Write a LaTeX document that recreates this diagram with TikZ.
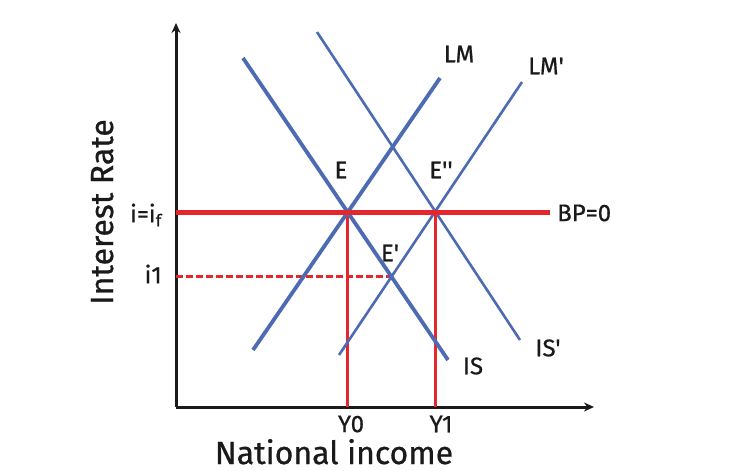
\documentclass[tikz,border=0pt]{standalone}
\usepackage{fontspec}
\setmainfont{Fira Sans}
\newfontfamily\labfont{Fira Sans}[FakeBold=0.7]
\usetikzlibrary{arrows.meta,positioning}
\definecolor{curveblue}{HTML}{4D6BB3}
\definecolor{bpred}{HTML}{E5262C}
\definecolor{ink}{HTML}{1A1A1A}
\tikzset{
  axisline/.style={-{Stealth[length=10pt,width=9pt]},line width=3pt,draw=ink},
  curve/.style={draw=curveblue,line width=3.8pt},
  curvethin/.style={draw=curveblue,line width=2.6pt},
  bpline/.style={draw=bpred,line width=5pt},
  dropline/.style={draw=bpred,line width=3pt},
  dashline/.style={draw=bpred,line width=3pt,dash pattern=on 7pt off 3pt},
  lab/.style={font=\labfont\fontsize{24}{24}\selectfont,text=ink,inner sep=1pt},
  axislab/.style={font=\labfont\fontsize{32}{32}\selectfont,text=ink,inner sep=0pt}
}
\begin{document}
\begin{tikzpicture}[x=1pt,y=-1pt]
  \path[use as bounding box,fill=white] (0,0) rectangle (736,471);
  % axes
  \coordinate (O) at (176,407);
  \coordinate (ytop) at (176,23);
  \coordinate (xend) at (594,407);
  \draw[axisline] (O) -- (ytop);
  \draw[axisline] (O) -- (xend);
  % curve ends
  \coordinate (IS-a) at (243,58);
  \coordinate (IS-b) at (448,360);
  \coordinate (ISp-a) at (317,32);
  \coordinate (ISp-b) at (520,340);
  \coordinate (LM-a) at (253,350);
  \coordinate (LM-b) at (440,78);
  \coordinate (LMp-a) at (339,355);
  \coordinate (LMp-b) at (522,82);
  % equilibria
  \coordinate (E) at (347,212);
  \coordinate (Epp) at (435,212);
  \coordinate (Ep) at (391,276);
  \coordinate (bp-a) at (176,212);
  \coordinate (bp-b) at (550,212);
  \coordinate (i1-a) at (176,276);
  % red lines
  \draw[dropline] (E) -- (E |- O);
  \draw[dropline] (Epp) -- (Epp |- O);
  \draw[dashline] (i1-a) -- (Ep);
  % IS-LM curves
  \draw[curve] (IS-a) -- (IS-b);
  \draw[curvethin] (ISp-a) -- (ISp-b);
  \draw[curve] (LM-a) -- (LM-b);
  \draw[curvethin] (LMp-a) -- (LMp-b);
  \draw[bpline] (bp-a) -- (bp-b);
  % labels
  \node[lab] (lm) at (459,54) {LM};
  \node[lab] (lmp) at (546,66) {LM'};
  \node[lab] (is) at (473,366) {IS};
  \node[lab] (isp) at (548,348) {IS'};
  \node[lab] (e) at (341,170) {E};
  \node[lab] (epp) at (441,170) {E''};
  \node[lab] (ep) at (390,253) {E'};
  \node[lab,anchor=west] (bp) at (556,213) {BP=0};
  \node[lab,anchor=east] (if) at (163,215) {i=i\textsubscript{f}};
  \node[lab,anchor=east] (ione) at (163,274) {i1};
  \node[lab,inner sep=0pt] (y0) at (351,424) {Y0};
  \node[lab,inner sep=0pt] (y1) at (441,424) {Y1};
  \node[axislab,anchor=base] (xlab) at (334,464) {National income};
  \node[axislab,rotate=90,anchor=base] (ylab) at (113,212) {Interest Rate};
\end{tikzpicture}
\end{document}
